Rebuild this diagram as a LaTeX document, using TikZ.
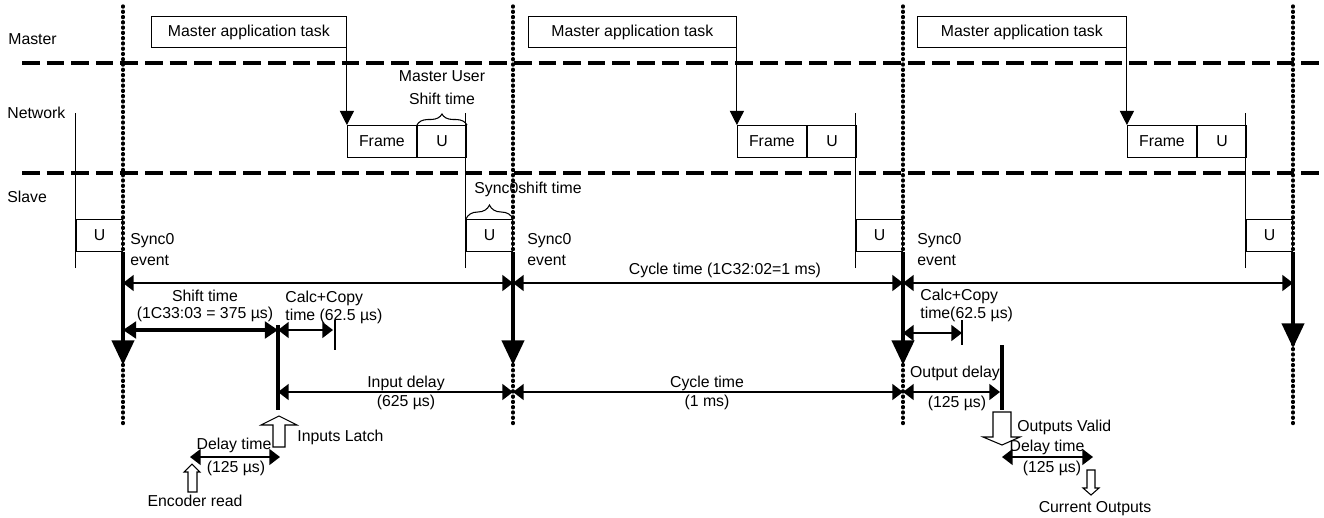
\documentclass[tikz,border=0pt]{standalone}
\usepackage{fontspec}
\setmainfont{Liberation Sans}
\usepackage{tikz}
\usetikzlibrary{arrows.meta,positioning,calc,decorations.pathreplacing}

\begin{document}
\begin{tikzpicture}[x=0.2mm, y=-0.2mm,
  font=\fontsize{9}{12}\selectfont,
  thinline/.style={line width=0.6pt},
  laneline/.style={line width=2.2pt, dash pattern=on 10pt off 4pt},
  syncline/.style={line width=1.9pt, line cap=round, dash pattern=on 0.6pt off 2.4pt},
  cellbox/.style={draw, line width=0.6pt, minimum height=6.4mm, inner sep=0pt},
  taskbox/.style={draw, line width=0.6pt, minimum height=6.2mm, inner sep=0pt},
  dimarrow/.style={line width=0.8pt, {Triangle[length=6pt,width=9pt]}-{Triangle[length=6pt,width=9pt]}},
  boldarrow/.style={line width=2.3pt, {Triangle[length=7.5pt,width=9.5pt]}-{Triangle[length=7.5pt,width=9.5pt]}},
  syncarrow/.style={line width=2.3pt, -{Triangle[length=14pt,width=12.5pt]}},
  taskarrow/.style={line width=0.6pt, -{Triangle[length=8pt,width=8pt]}},
  hollow/.style={draw, line width=0.6pt, fill=white},
  lbl/.style={inner sep=0pt},
  tight/.style={inner sep=0pt, font=\fontsize{9}{9.8}\selectfont}]
  \useasboundingbox (0,0) rectangle (1324,517);

  \node[lbl, anchor=west] (master) at (8,39) {Master};
  \node[lbl, anchor=west] (network) at (7,113) {Network};
  \node[lbl, anchor=west] (slave) at (7,197) {Slave};
  \draw[laneline] (22,63) -- (1324,63);
  \draw[laneline] (22,173) -- (1324,173);

  \foreach \i/\x/\tip in {0/123/365, 1/513/365, 2/903/365, 3/1293/348} {
    \draw[syncline] (\x,6) -- (\x,425);
    \node[cellbox, minimum width=9.2mm, anchor=north east] (u\i) at (\x,219) {U};
    \coordinate (c\i) at (\x,283);
    \coordinate (d\i) at (\x,392);
    \coordinate (e\i) at (\x,\tip);
    \draw[thinline] ([yshift=-3.2mm]u\i.south west) -- ([yshift=21.2mm]u\i.north west);
    \draw[syncarrow] (u\i.south east) -- (e\i);
  }

  \foreach \i/\x/\w in {1/513/39mm, 2/903/41.6mm, 3/1293/41.8mm} {
    \node[cellbox, minimum width=9.8mm, anchor=north east] (n\i) at (\x-46,125) {U};
    \node[cellbox, minimum width=13.8mm, anchor=north east] (f\i) at (n\i.north west) {Frame};
    \node[taskbox, minimum width=\w, anchor=south east] (t\i) at ([yshift=15.4mm]f\i.north west) {Master application task};
    \draw[taskarrow] (t\i.south east) -- (f\i.north west);
  }

  \foreach \i/\x in {0/130, 1/527, 2/917}
    \node[lbl, align=left, anchor=north west] (ev\i) at (\x,233) {Sync0\\event};

  \draw[thinline, decorate, decoration={brace, amplitude=2.2mm}] (n1.north west) -- (n1.north east);
  \node[lbl, align=center, font=\fontsize{9}{13}\selectfont] (mus) at (442,88) {Master User\\Shift time};
  \draw[thinline, decorate, decoration={brace, amplitude=2.8mm}] (u1.north west) -- (u1.north east);
  \node[lbl, anchor=west] (sshift) at (474,189) {Sync0shift time};

  \draw[dimarrow] (c0) -- (c1);
  \draw[dimarrow] (c1) -- (c2);
  \draw[dimarrow] (c2) -- (c3);
  \node[lbl] (cycle) at (725,270) {Cycle time (1C32:02=1 ms)};

  % inputs
  \coordinate (sh0) at (123,330);
  \coordinate (sh1) at (278,330);
  \coordinate (cc1) at (333,330);
  \coordinate (id0) at (278,392);
  \draw[boldarrow] (sh0) -- (sh1);
  \draw[dimarrow] (sh1) -- (cc1);
  \draw[thinline] (335,320) -- (335,350);
  \draw[line width=2.3pt] (278,325) -- (278,410);
  \node[tight, align=center] (shift) at (205,306) {Shift time\\(1C33:03 = 375 µs)};
  \node[tight, align=left, anchor=north west] (calc1) at (285,291) {Calc+Copy\\time (62.5 µs)};
  \draw[dimarrow] (id0) -- (d1);
  \node[lbl] (indelay) at (406,383) {Input delay};
  \node[lbl] (inval) at (406,402) {(625 µs)};
  \draw[hollow] (273,447) -- (273,425) -- (261,425) -- (279,416) -- (297,425) -- (285,425) -- (285,447) -- cycle;
  \node[lbl, anchor=west] (latch) at (297,437) {Inputs Latch};
  \coordinate (dl0) at (190,457);
  \coordinate (dl1) at (280,457);
  \draw[dimarrow] (dl0) -- (dl1);
  \node[lbl] (dlin) at (234,445) {Delay time};
  \node[lbl] (dlinv) at (236,468) {(125 µs)};
  \draw[hollow] (188,492) -- (188,472) -- (184,472) -- (192,464) -- (200,472) -- (197,472) -- (197,492) -- cycle;
  \node[lbl] (enc) at (195,501) {Encoder read};

  \draw[dimarrow] (d1) -- (d2);
  \node[lbl] (cyc2) at (707,383) {Cycle time};
  \node[lbl] (cyc2v) at (707,402) {(1 ms)};

  % outputs
  \coordinate (cc2a) at (903,333);
  \coordinate (cc2b) at (962,333);
  \coordinate (od1) at (1000,392);
  \draw[dimarrow] (cc2a) -- (cc2b);
  \draw[thinline] (962,320) -- (962,345);
  \node[tight, align=left, anchor=north west] (calc2) at (920,289) {Calc+Copy\\time(62.5 µs)};
  \draw[dimarrow] (d2) -- (od1);
  \draw[line width=2.3pt] (1002,345) -- (1002,410);
  \node[lbl] (outdelay) at (955,373) {Output delay};
  \node[lbl] (outval) at (957,403) {(125 µs)};
  \draw[hollow] (993,412) -- (993,437) -- (983,437) -- (1002,445) -- (1020,437) -- (1011,437) -- (1011,412) -- cycle;
  \node[lbl, anchor=west] (valid) at (1017,427) {Outputs Valid};
  \coordinate (do0) at (1002,457);
  \coordinate (do1) at (1093,457);
  \draw[dimarrow] (do0) -- (do1);
  \node[lbl] (dlout) at (1047,447) {Delay time};
  \node[lbl] (dloutv) at (1052,468) {(125 µs)};
  \draw[hollow] (1087,470) -- (1087,488) -- (1083,488) -- (1091,495) -- (1099,488) -- (1095,488) -- (1095,470) -- cycle;
  \node[lbl] (curout) at (1095,509) {Current Outputs};
\end{tikzpicture}
\end{document}
